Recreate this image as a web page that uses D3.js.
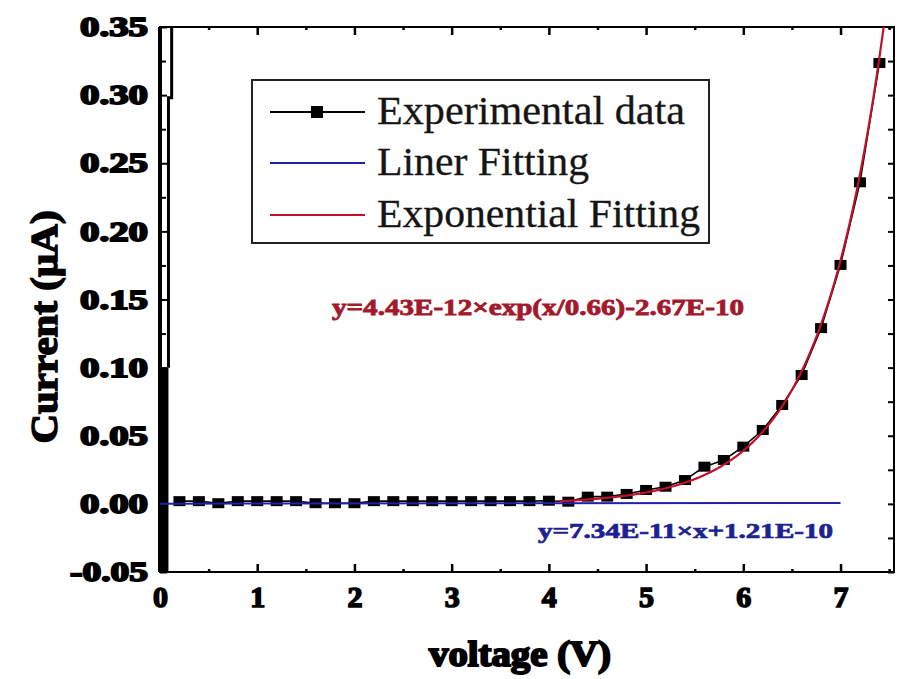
<!DOCTYPE html>
<html>
<head>
<meta charset="utf-8">
<script src="https://cdn.jsdelivr.net/npm/d3@7"></script>
<style>
  body { margin: 0; background: #fff; }
  svg { display: block; }
</style>
</head>
<body>
<svg id="chart" width="897" height="679"></svg>
<script>
// Measured I–V sweep: bias voltage (V) and current (µA)
const voltage = [0.2, 0.4, 0.6, 0.8, 1.0, 1.2, 1.4, 1.6, 1.8, 2.0,
                 2.2, 2.4, 2.6, 2.8, 3.0, 3.2, 3.4, 3.6, 3.8, 4.0,
                 4.2, 4.4, 4.6, 4.8, 5.0, 5.2, 5.4, 5.6, 5.8, 6.0,
                 6.2, 6.4, 6.6, 6.8, 7.0, 7.2, 7.4];
const current = [0.002, 0.002, 0.0005, 0.002, 0.002, 0.002, 0.002, 0.0005, 0.0005, 0.0005,
                 0.002, 0.002, 0.002, 0.002, 0.002, 0.002, 0.002, 0.002, 0.002, 0.0023,
                 0.0016, 0.0053, 0.0053, 0.0073, 0.0102, 0.0126, 0.0175, 0.0273, 0.0322, 0.042,
                 0.0542, 0.0726, 0.0946, 0.129, 0.1754, 0.236, 0.3236];

// Axis ticks
const xTicks = [0, 1, 2, 3, 4, 5, 6, 7];
const yTicks = [-0.05, 0.00, 0.05, 0.10, 0.15, 0.20, 0.25, 0.30, 0.35];
const yTickLabels = ["-0.05", "0.00", "0.05", "0.10", "0.15", "0.20", "0.25", "0.30", "0.35"];

const legendLabels = ["Experimental data", "Liner Fitting", "Exponential Fitting"];

// Linear fit, current in A: y = 7.34E-11·x + 1.21E-10, over 0–7 V
const linSlope = 7.34e-11;
const linIntercept = 1.21e-10;
const linRange = [0, 7];
const linLabel = "y=7.34E-11×x+1.21E-10";

// Exponential fit, current in A: y = 4.43E-12·exp(x/0.66) − 2.67E-10, from 4.1 V
const expAmp = 4.43e-12;
const expScale = 0.66;
const expOffset = -2.67e-10;
const expStart = 4.1;
const expLabel = "y=4.43E-12×exp(x/0.66)-2.67E-10";

// Trace hugging the 0 V edge (V, µA)
const edgeSolid = [[0, -0.05], [0.087, 0.10]];
const edgeOutline = [[0.087, 0.10], [0.087, 0.298], [0.12, 0.298], [0.12, 0.35]];

const A_TO_uA = 1e6;

const svg = d3.select("#chart");
const margin = { left: 160, right: 3, top: 27, bottom: 107 };
const W = 897, H = 679;

const x = d3.scaleLinear().domain([0, 7.55]).range([margin.left, W - margin.right]);
const y = d3.scaleLinear().domain([-0.05, 0.35]).range([H - margin.bottom, margin.top]);

const serif = "'Liberation Serif', 'Times New Roman', serif";

svg.append("defs").append("clipPath").attr("id", "plot-clip")
  .append("rect")
  .attr("x", x.range()[0]).attr("y", y.range()[1])
  .attr("width", x.range()[1] - x.range()[0])
  .attr("height", y.range()[0] - y.range()[1]);

// Edge trace at 0 V
svg.append("rect")
  .attr("x", x(edgeSolid[0][0]) - 2)
  .attr("y", y(edgeSolid[1][1]))
  .attr("width", x(edgeSolid[1][0]) - x(edgeSolid[0][0]) + 2)
  .attr("height", y(edgeSolid[0][1]) - y(edgeSolid[1][1]))
  .attr("fill", "#000");
svg.append("path")
  .attr("d", d3.line().x(d => x(d[0])).y(d => y(d[1]))(edgeOutline))
  .attr("fill", "none").attr("stroke", "#000").attr("stroke-width", 3);

// Frame
svg.append("rect")
  .attr("x", x.range()[0]).attr("y", y.range()[1])
  .attr("width", x.range()[1] - x.range()[0])
  .attr("height", y.range()[0] - y.range()[1])
  .attr("fill", "none").attr("stroke", "#000").attr("stroke-width", 2);
svg.append("line")
  .attr("x1", x(0)).attr("x2", x(0))
  .attr("y1", y.range()[1]).attr("y2", y.range()[0])
  .attr("stroke", "#000").attr("stroke-width", 4);

// Tick grids (major + half-step minor)
const xAll = d3.range(0, 16).map(i => i * 0.5).filter(v => v <= 7.55);
const yAll = d3.range(0, 17).map(i => +(-0.05 + i * 0.025).toFixed(3));
const isMajorX = v => xTicks.includes(v);
const isMajorY = v => yTicks.some(t => Math.abs(t - v) < 1e-9);

function styleTickText(sel, size, strokeW) {
  sel.selectAll("text")
    .attr("font-family", serif)
    .attr("font-weight", "bold")
    .attr("font-size", size)
    .attr("fill", "#000")
    .attr("stroke", "#000")
    .attr("stroke-width", strokeW)
    .attr("paint-order", "stroke");
}

// Bottom axis
const gx = svg.append("g")
  .attr("transform", `translate(0,${y.range()[0]})`)
  .call(d3.axisBottom(x).tickValues(xAll).tickSize(-8).tickPadding(14)
    .tickFormat(d => isMajorX(d) ? String(d) : ""));
gx.select(".domain").remove();
gx.selectAll(".tick line").attr("y2", d => isMajorX(d) ? -8 : -3)
  .attr("stroke-width", 2.5);
styleTickText(gx, 30, 1.6);

// Top axis (ticks only)
const gxt = svg.append("g")
  .attr("transform", `translate(0,${y.range()[1]})`)
  .call(d3.axisTop(x).tickValues(xAll).tickSize(-8).tickFormat(""));
gxt.select(".domain").remove();
gxt.selectAll(".tick line").attr("y2", d => isMajorX(d) ? 8 : 3)
  .attr("stroke-width", 2.5);

// Left axis
const labelFor = v => {
  const i = yTicks.findIndex(t => Math.abs(t - v) < 1e-9);
  return i >= 0 ? yTickLabels[i] : "";
};
const gy = svg.append("g")
  .attr("transform", `translate(${x.range()[0]},0)`)
  .call(d3.axisLeft(y).tickValues(yAll).tickSize(-7).tickPadding(12)
    .tickFormat(labelFor));
gy.select(".domain").remove();
gy.selectAll(".tick line").attr("x2", d => isMajorY(d) ? 7 : 6)
  .attr("stroke-width", 2);
styleTickText(gy, 27, 1.8);
gy.selectAll(".tick text")
  .attr("textLength", function () {
    const s = this.textContent;
    let w = 0;
    for (const ch of s) w += ch === "." ? 11 : ch === "-" ? 10 : 19;
    return s ? w : null;
  })
  .attr("lengthAdjust", "spacingAndGlyphs");

// Right axis (ticks only)
const gyr = svg.append("g")
  .attr("transform", `translate(${x.range()[1]},0)`)
  .call(d3.axisRight(y).tickValues(yAll).tickSize(-6).tickFormat(""));
gyr.select(".domain").remove();
gyr.selectAll(".tick line").attr("x2", -6).attr("stroke-width", 2);

// Plot layer
const plot = svg.append("g").attr("clip-path", "url(#plot-clip)");
const pts = voltage.map((v, i) => [v, current[i]]);

plot.append("path")
  .attr("d", d3.line().x(d => x(d[0])).y(d => y(d[1]))(pts))
  .attr("fill", "none").attr("stroke", "#000").attr("stroke-width", 1.6);

const mw = 12, mh = 10;
plot.selectAll("rect.pt").data(pts).join("rect")
  .attr("class", "pt")
  .attr("x", d => x(d[0]) - mw / 2)
  .attr("y", d => y(d[1]) - mh / 2)
  .attr("width", mw).attr("height", mh)
  .attr("fill", "#000");

// Linear fit line
const linPts = linRange.map(v => [v, (linSlope * v + linIntercept) * A_TO_uA]);
plot.append("path")
  .attr("d", d3.line().x(d => x(d[0])).y(d => y(d[1]))(linPts))
  .attr("fill", "none").attr("stroke", "#2020a8").attr("stroke-width", 2);

// Exponential fit curve
const expV = d3.range(expStart, x.domain()[1] + 0.005, 0.01);
const expPts = expV.map(v => [v, (expAmp * Math.exp(v / expScale) + expOffset) * A_TO_uA]);
plot.append("path")
  .attr("d", d3.line().x(d => x(d[0])).y(d => y(d[1]))(expPts))
  .attr("fill", "none").attr("stroke", "#c0102a").attr("stroke-width", 2.2);

// Fit equations
svg.append("text")
  .attr("x", 332).attr("y", 315)
  .attr("font-family", serif).attr("font-weight", "bold").attr("font-size", 23)
  .attr("fill", "#a3182a").attr("stroke", "#a3182a").attr("stroke-width", 0.8)
  .attr("textLength", 412).attr("lengthAdjust", "spacingAndGlyphs")
  .text(expLabel);
svg.append("text")
  .attr("x", 538).attr("y", 538)
  .attr("font-family", serif).attr("font-weight", "bold").attr("font-size", 21)
  .attr("fill", "#1c2290").attr("stroke", "#1c2290").attr("stroke-width", 0.7)
  .attr("textLength", 295).attr("lengthAdjust", "spacingAndGlyphs")
  .text(linLabel);

// Legend
const lg = svg.append("g");
lg.append("rect")
  .attr("x", 252).attr("y", 80).attr("width", 457).attr("height", 163)
  .attr("fill", "#fff").attr("stroke", "#222").attr("stroke-width", 2);
const legendColors = ["#000", "#2020a8", "#c0102a"];
const legendRowY = [112, 163, 215];
const legendWidths = [308, 212, 323];
legendLabels.forEach((lab, i) => {
  lg.append("line")
    .attr("x1", 270).attr("x2", 365)
    .attr("y1", legendRowY[i]).attr("y2", legendRowY[i])
    .attr("stroke", legendColors[i]).attr("stroke-width", 2);
  if (i === 0) {
    lg.append("rect")
      .attr("x", 317 - 6).attr("y", legendRowY[i] - 6)
      .attr("width", 12).attr("height", 12).attr("fill", "#000");
  }
  lg.append("text")
    .attr("x", 377).attr("y", legendRowY[i] + 12)
    .attr("font-family", serif).attr("font-size", 40)
    .attr("fill", "#151515").attr("stroke", "#151515").attr("stroke-width", 0.3)
    .attr("textLength", legendWidths[i]).attr("lengthAdjust", "spacingAndGlyphs")
    .text(lab);
});

// Axis titles
svg.append("text")
  .attr("x", 520).attr("y", 666)
  .attr("text-anchor", "middle")
  .attr("font-family", serif).attr("font-weight", "bold").attr("font-size", 36)
  .attr("fill", "#000").attr("stroke", "#000").attr("stroke-width", 2)
  .attr("textLength", 182).attr("lengthAdjust", "spacingAndGlyphs")
  .text("voltage (V)");
svg.append("text")
  .attr("transform", "translate(57,327) rotate(-90)")
  .attr("text-anchor", "middle")
  .attr("font-family", serif).attr("font-weight", "bold").attr("font-size", 38)
  .attr("fill", "#000").attr("stroke", "#000").attr("stroke-width", 1.5)
  .attr("textLength", 233).attr("lengthAdjust", "spacingAndGlyphs")
  .text("Current (µA)");
</script>
</body>
</html>
